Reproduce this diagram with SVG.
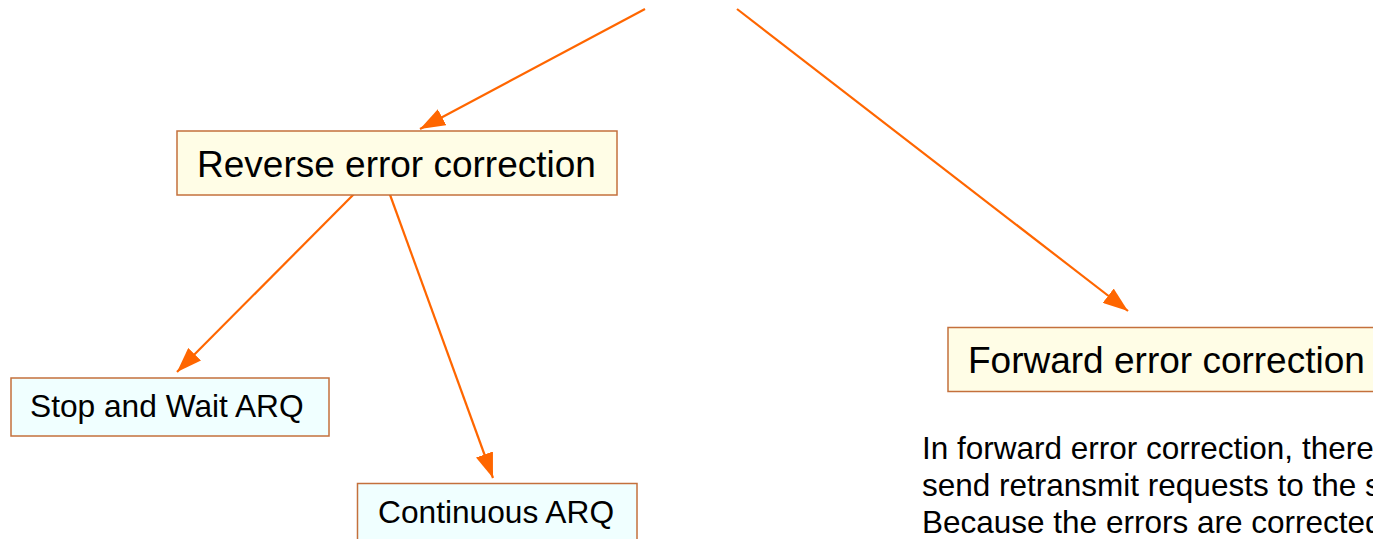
<svg xmlns="http://www.w3.org/2000/svg" width="1373" height="539" viewBox="0 0 1373 539">
  <style>
    .box-rev { fill: #FFFDE6; stroke: #C4703C; stroke-width: 1.5; }
    .box-arq { fill: #F0FFFF; stroke: #C4703C; stroke-width: 1.5; }
    .lbl { font-family: "Liberation Sans", Arial, sans-serif; fill: #000; }
    .big { font-size: 37px; }
    .mid { font-size: 31.7px; }
    .para { font-family: "Liberation Sans", Arial, sans-serif; font-size: 31.5px; fill: #000; }
    .edge { stroke: #FF6600; stroke-width: 2.2; fill: none; marker-end: url(#arrow); }
  </style>
  <defs>
    <marker id="arrow" viewBox="0 0 25 18" refX="25" refY="9" markerWidth="25" markerHeight="18" markerUnits="userSpaceOnUse" orient="auto">
      <path d="M0,0 L25,9 L0,18 Z" fill="#FF6600"/>
    </marker>
  </defs>
  <rect width="1373" height="539" fill="#FFFFFF"/>

  <g id="connectors">
    <line class="edge" x1="645" y1="9" x2="420" y2="129"/>
    <line class="edge" x1="737" y1="9" x2="1128" y2="311"/>
    <line class="edge" x1="357" y1="191" x2="177" y2="372"/>
    <line class="edge" x1="389" y1="192" x2="493" y2="478"/>
  </g>

  <g id="reverse">
    <rect class="box-rev" x="177" y="131" width="440" height="64"/>
    <text class="lbl big" x="197" y="177">Reverse error correction</text>
  </g>

  <g id="forward">
    <rect class="box-rev" x="948" y="327.5" width="440" height="64"/>
    <text class="lbl big" x="968" y="373">Forward error correction</text>
  </g>

  <g id="stop-and-wait">
    <rect class="box-arq" x="11" y="378" width="318" height="58"/>
    <text class="lbl mid" x="30" y="417">Stop and Wait ARQ</text>
  </g>

  <g id="continuous">
    <rect class="box-arq" x="357.5" y="483.5" width="279.5" height="70"/>
    <text class="lbl mid" x="378" y="523">Continuous ARQ</text>
  </g>

  <!-- body text runs past the right edge of the canvas -->
  <g id="description">
    <text class="para" x="922" y="459">In forward error correction, there</text>
    <text class="para" x="922" y="496">send retransmit requests to the s</text>
    <text class="para" x="922" y="533">Because the errors are corrected</text>
  </g>
</svg>
